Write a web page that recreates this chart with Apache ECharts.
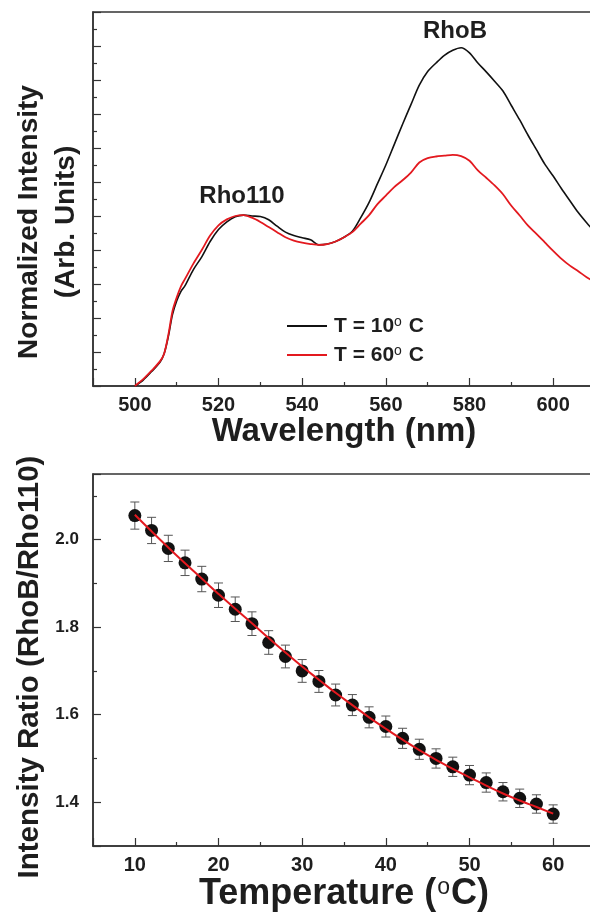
<!DOCTYPE html>
<html>
<head>
<meta charset="utf-8">
<script src="https://cdn.jsdelivr.net/npm/echarts@6/dist/echarts.min.js"></script>
<style>
  html, body { margin: 0; padding: 0; background: #fff; }
  #chart { width: 590px; height: 914px; }
</style>
</head>
<body>
<div id="chart"></div>
<script>
// top panel: normalized emission spectra (Rho110 peak = 1)
var wavelengths = [500, 502, 504, 506, 507, 508, 509, 510, 511, 512, 514, 516, 518, 520, 522, 524, 526, 528, 530,
  532, 534, 536, 538, 540, 542, 544, 546, 548, 550, 552, 554, 556, 558, 560, 562, 564, 566, 568, 570, 572, 574,
  576, 578, 580, 582, 584, 586, 588, 590, 592, 594, 596, 598, 600, 602, 604, 606, 608, 610]
var intensity10C = [0.00, 0.035, 0.085, 0.14, 0.19, 0.29, 0.42, 0.50, 0.555, 0.59, 0.685, 0.76, 0.85, 0.92, 0.965,
  0.995, 1.005, 1.0, 0.997, 0.978, 0.94, 0.905, 0.885, 0.872, 0.86, 0.83, 0.835, 0.85, 0.875, 0.91, 0.99, 1.08,
  1.19, 1.30, 1.42, 1.54, 1.655, 1.77, 1.85, 1.90, 1.945, 1.975, 1.99, 1.96, 1.90, 1.848, 1.793, 1.735, 1.65,
  1.565, 1.475, 1.39, 1.305, 1.235, 1.16, 1.09, 1.02, 0.96, 0.905]
var intensity60C = [0.00, 0.04, 0.09, 0.145, 0.19, 0.30, 0.44, 0.52, 0.585, 0.63, 0.72, 0.80, 0.885, 0.945, 0.98,
  1.0, 1.005, 0.99, 0.965, 0.935, 0.905, 0.875, 0.855, 0.843, 0.835, 0.83, 0.835, 0.85, 0.875, 0.905, 0.955, 1.005,
  1.07, 1.12, 1.17, 1.21, 1.255, 1.315, 1.34, 1.35, 1.355, 1.36, 1.352, 1.325, 1.268, 1.225, 1.18, 1.128, 1.06,
  1.003, 0.943, 0.895, 0.845, 0.795, 0.748, 0.708, 0.675, 0.64, 0.612]

// bottom panel: intensity ratio vs temperature
var temperatures = [10, 12, 14, 16, 18, 20, 22, 24, 26, 28, 30, 32, 34, 36, 38, 40, 42, 44, 46, 48, 50, 52, 54, 56, 58, 60]
var ratios = [2.055, 2.021, 1.980, 1.947, 1.910, 1.873, 1.841, 1.808, 1.765, 1.733, 1.700, 1.676, 1.645, 1.622,
  1.594, 1.573, 1.546, 1.521, 1.500, 1.481, 1.462, 1.445, 1.424, 1.409, 1.396, 1.373]
var ratioErrors = [0.031, 0.030, 0.030, 0.029, 0.029, 0.028, 0.028, 0.027, 0.027, 0.026, 0.026, 0.025, 0.025,
  0.024, 0.024, 0.024, 0.023, 0.023, 0.022, 0.022, 0.022, 0.022, 0.021, 0.021, 0.021, 0.021]
var fitRatios = [2.057, 2.019, 1.982, 1.946, 1.911, 1.876, 1.842, 1.809, 1.775, 1.742, 1.710, 1.680, 1.650, 1.622,
  1.594, 1.568, 1.543, 1.519, 1.497, 1.476, 1.457, 1.438, 1.420, 1.404, 1.389, 1.374]

var FONT = '"Liberation Sans", Arial, sans-serif'
var INK = '#1e1e1e'
var AXIS = '#333'
var RED = '#e3191f'

function pairs(xs, ys) {
  return xs.map(function(x, i) { return [x, ys[i]] })
}

function onMultiple(v, step) {
  return Math.abs(v / step - Math.round(v / step)) < 1e-6
}

function axisCommon(extra) {
  var base = {
    type: 'value',
    splitLine: { show: false },
    axisLine: { show: true, onZero: false, lineStyle: { color: AXIS, width: 1.5 } },
    axisTick: { show: true, inside: true, length: 8, lineStyle: { color: AXIS, width: 1.2 } },
    minorTick: { show: true, splitNumber: 2, length: 4, lineStyle: { color: AXIS, width: 1.2 } },
    axisLabel: { color: INK, fontFamily: FONT, fontWeight: 'bold' }
  }
  return Object.assign(base, extra)
}

var chart = echarts.init(document.getElementById('chart'))

var option = {
  animation: false,
  backgroundColor: '#fff',
  grid: [
    { left: 93, top: 12, right: -5, bottom: 528, show: true, borderColor: AXIS, borderWidth: 1.5, outerBoundsMode: 'none', containLabel: false },
    { left: 93, top: 474, right: -5, bottom: 68, show: true, borderColor: AXIS, borderWidth: 1.5, outerBoundsMode: 'none', containLabel: false }
  ],
  xAxis: [
    axisCommon({
      gridIndex: 0, min: 490, max: 610, splitNumber: 6, minInterval: 20, maxInterval: 20,
      axisLabel: {
        color: INK, fontFamily: FONT, fontWeight: 'bold', fontSize: 20, margin: 9,
        formatter: function(v) { return onMultiple(v, 20) ? String(v) : '' }
      },
      name: 'Wavelength (nm)', nameLocation: 'middle', nameGap: 26,
      nameTextStyle: { color: INK, fontFamily: FONT, fontWeight: 'bold', fontSize: 33, verticalAlign: 'top' }
    }),
    axisCommon({
      gridIndex: 1, min: 5, max: 65, splitNumber: 6, minInterval: 10, maxInterval: 10,
      axisLabel: {
        color: INK, fontFamily: FONT, fontWeight: 'bold', fontSize: 20, margin: 9,
        formatter: function(v) { return onMultiple(v, 10) ? String(v) : '' }
      },
      name: 'Temperature ({s|o}C)', nameLocation: 'middle', nameGap: 25,
      nameTextStyle: {
        color: INK, fontFamily: FONT, fontWeight: 'bold', fontSize: 36, verticalAlign: 'top',
        rich: { s: { fontSize: 23, fontWeight: 'normal', fontFamily: FONT, color: INK, verticalAlign: 'top', padding: [0, 1, 14, 1] } }
      }
    })
  ],
  yAxis: [
    axisCommon({
      gridIndex: 0, min: 0, max: 2.2, splitNumber: 11, minInterval: 0.2, maxInterval: 0.2,
      axisLabel: { show: false }
    }),
    axisCommon({
      gridIndex: 1, min: 1.3, max: 2.15, splitNumber: 4, minInterval: 0.2, maxInterval: 0.2,
      axisLabel: {
        color: INK, fontFamily: FONT, fontWeight: 'bold', fontSize: 17, margin: 14,
        formatter: function(v) { return onMultiple(v, 0.2) ? v.toFixed(1) : '' }
      }
    })
  ],
  legend: {
    orient: 'vertical', left: 287, top: 315, padding: 0, itemWidth: 40, itemHeight: 2, itemGap: 7,
    icon: 'rect',
    data: ['T = 10° C', 'T = 60° C'],
    formatter: function(name) { return name.replace('°', '{s|o}') },
    textStyle: {
      color: INK, fontFamily: FONT, fontWeight: 'bold', fontSize: 21, lineHeight: 22, padding: [0, 0, 0, 2],
      rich: { s: { fontSize: 14, fontWeight: 'normal', fontFamily: FONT, color: INK, verticalAlign: 'top', padding: [0, 1, 8, 0] } }
    }
  },
  graphic: [
    {
      type: 'text', x: 48, y: 222, rotation: Math.PI / 2,
      style: {
        text: 'Normalized Intensity\n(Arb. Units)', fill: INK, fontFamily: FONT, fontWeight: 'bold',
        fontSize: 28, lineHeight: 37, align: 'center', verticalAlign: 'middle'
      }
    },
    {
      type: 'text', x: 30, y: 667, rotation: Math.PI / 2,
      style: {
        text: 'Intensity Ratio (RhoB/Rho110)', fill: INK, fontFamily: FONT, fontWeight: 'bold',
        fontSize: 29.5, align: 'center', verticalAlign: 'middle'
      }
    },
    {
      type: 'text', x: 242, y: 196,
      style: { text: 'Rho110', fill: INK, fontFamily: FONT, fontWeight: 'bold', fontSize: 24, align: 'center', verticalAlign: 'middle' }
    },
    {
      type: 'text', x: 455, y: 31,
      style: { text: 'RhoB', fill: INK, fontFamily: FONT, fontWeight: 'bold', fontSize: 24, align: 'center', verticalAlign: 'middle' }
    }
  ],
  series: [
    {
      name: 'T = 10° C', type: 'line', xAxisIndex: 0, yAxisIndex: 0,
      data: pairs(wavelengths, intensity10C), symbol: 'none', smooth: 0.3,
      lineStyle: { color: '#111', width: 1.6 }, itemStyle: { color: '#111' }, z: 3
    },
    {
      name: 'T = 60° C', type: 'line', xAxisIndex: 0, yAxisIndex: 0,
      data: pairs(wavelengths, intensity60C), symbol: 'none', smooth: 0.3,
      lineStyle: { color: RED, width: 1.8 }, itemStyle: { color: RED }, z: 4
    },
    {
      name: 'error', type: 'custom', xAxisIndex: 1, yAxisIndex: 1, z: 2,
      data: temperatures.map(function(t, i) { return [t, ratios[i] - ratioErrors[i], ratios[i] + ratioErrors[i]] }),
      encode: { x: 0, y: [1, 2] },
      renderItem: function(params, api) {
        var top = api.coord([api.value(0), api.value(2)])
        var bot = api.coord([api.value(0), api.value(1)])
        var w = 4.5
        var st = { stroke: '#555', lineWidth: 1 }
        return {
          type: 'group',
          children: [
            { type: 'line', shape: { x1: top[0], y1: top[1], x2: bot[0], y2: bot[1] }, style: st },
            { type: 'line', shape: { x1: top[0] - w, y1: top[1], x2: top[0] + w, y2: top[1] }, style: st },
            { type: 'line', shape: { x1: bot[0] - w, y1: bot[1], x2: bot[0] + w, y2: bot[1] }, style: st }
          ]
        }
      }
    },
    {
      name: 'ratio', type: 'scatter', xAxisIndex: 1, yAxisIndex: 1, z: 3,
      data: pairs(temperatures, ratios), symbol: 'circle', symbolSize: 13,
      itemStyle: { color: '#111', opacity: 1, borderWidth: 0 }
    },
    {
      name: 'fit', type: 'line', xAxisIndex: 1, yAxisIndex: 1, z: 4,
      data: pairs(temperatures, fitRatios), symbol: 'none', smooth: true,
      lineStyle: { color: RED, width: 2 }
    }
  ]
}

chart.setOption(option)
</script>
</body>
</html>
